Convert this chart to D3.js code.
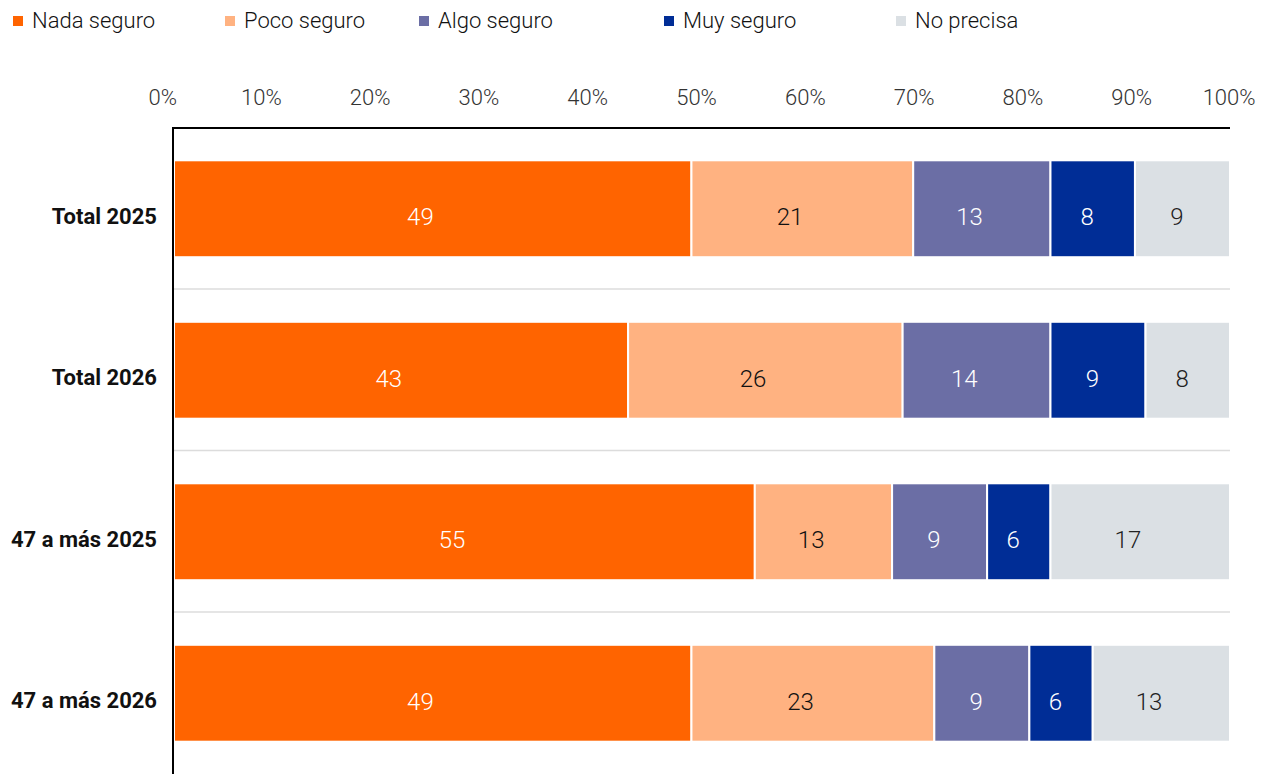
<!DOCTYPE html>
<html>
<head>
<meta charset="utf-8">
<script src="https://cdn.jsdelivr.net/npm/d3@7"></script>
<style>
  body { margin: 0; background: #fff; }
  text { font-family: Roboto, "Open Sans", sans-serif; }
</style>
</head>
<body>
<div id="chart"></div>
<script>
// Data
const categories = ['Total 2025', 'Total 2026', '47 a más 2025', '47 a más 2026']
const seriesNames = ['Nada seguro', 'Poco seguro', 'Algo seguro', 'Muy seguro', 'No precisa']
const nadaSeguro = [49, 43, 55, 49]
const pocoSeguro = [21, 26, 13, 23]
const algoSeguro = [13, 14, 9, 9]
const muySeguro = [8, 9, 6, 6]
const noPrecisa = [9, 8, 17, 13]
const tickValues = [0, 10, 20, 30, 40, 50, 60, 70, 80, 90, 100]

const colors = ['#ff6400', '#ffb281', '#6b6ea5', '#002d96', '#dbe0e4']
const textColors = ['#fff', '#111', '#fff', '#fff', '#222']

const width = 1268
const height = 774
const margin = { top: 128, left: 174, right: 38, bottom: 0 }

const rows = categories.map((c, i) => {
  const row = { cat: c }
  row['Nada seguro'] = nadaSeguro[i]
  row['Poco seguro'] = pocoSeguro[i]
  row['Algo seguro'] = algoSeguro[i]
  row['Muy seguro'] = muySeguro[i]
  row['No precisa'] = noPrecisa[i]
  return row
})

const svg = d3
  .select('#chart')
  .append('svg')
  .attr('width', width)
  .attr('height', height)

const xPositionScale = d3.scaleLinear().domain([0, 100]).range([margin.left, width - margin.right])
// the tick labels in the original run on their own spacing and are kept inside the frame
const xLabelScale = d3.scaleLinear().domain([0, 100]).range([152, 1240])
const yPositionScale = d3
  .scaleBand()
  .domain(categories)
  .range([margin.top, height])
  .paddingInner(0.4)
  .paddingOuter(0.2)
const colorScale = d3.scaleOrdinal().domain(seriesNames).range(colors)

const stacked = d3.stack().keys(seriesNames)(rows)

// separator lines between rows
const step = yPositionScale.step()
svg
  .selectAll('.sep')
  .data(categories.slice(1))
  .enter()
  .append('line')
  .attr('class', 'sep')
  .attr('x1', margin.left)
  .attr('x2', width - margin.right)
  .attr('y1', d => yPositionScale(d) - step * 0.4 / 2 - 0.5)
  .attr('y2', d => yPositionScale(d) - step * 0.4 / 2 - 0.5)
  .attr('stroke', '#dcdcdc')
  .attr('stroke-width', 1.5)

// bars
const groups = svg
  .selectAll('.series')
  .data(stacked)
  .enter()
  .append('g')
  .attr('class', 'series')
  .attr('fill', d => colorScale(d.key))

groups
  .selectAll('rect')
  .data(d => d)
  .enter()
  .append('rect')
  .attr('x', d => xPositionScale(d[0]))
  .attr('width', d => xPositionScale(d[1]) - xPositionScale(d[0]))
  .attr('y', d => yPositionScale(d.data.cat))
  .attr('height', yPositionScale.bandwidth())
  .attr('stroke', '#fff')
  .attr('stroke-width', 2)

// value labels end at the middle of each segment, like the original
groups
  .selectAll('text')
  .data((d, i) => d.map(v => ({ v: v, i: i })))
  .enter()
  .append('text')
  .attr('x', d => (xPositionScale(d.v[0]) + xPositionScale(d.v[1])) / 2 + 1)
  .attr('y', d => yPositionScale(d.v.data.cat) + yPositionScale.bandwidth() / 2 + 8)
  .attr('dy', '0.36em')
  .attr('text-anchor', 'end')
  .attr('font-size', 24)
  .attr('font-weight', 300)
  .attr('fill', d => textColors[d.i])
  .text(d => d.v[1] - d.v[0])

// top axis
const xAxis = d3
  .axisTop(xLabelScale)
  .tickValues(tickValues)
  .tickSize(0)
  .tickPadding(0)
  .tickFormat(d => d + '%')
const xAxisG = svg
  .append('g')
  .attr('class', 'axis x-axis')
  .attr('transform', 'translate(0,105)')
  .call(xAxis)
  .call(g => g.select('.domain').remove())

xAxisG
  .selectAll('text')
  .attr('font-size', 22)
  .attr('font-weight', 300)
  .attr('font-family', 'Roboto, sans-serif')
  .attr('fill', '#333')

// keep the end labels inside [148, 1255]
xAxisG.selectAll('.tick').each(function(d) {
  const t = d3.select(this).select('text')
  const half = t.node().getComputedTextLength() / 2
  const cx = xLabelScale(d)
  const clamped = Math.max(148 + half, Math.min(1255 - half, cx))
  t.attr('x', clamped - cx)
})

svg
  .append('line')
  .attr('x1', margin.left - 2)
  .attr('x2', width - margin.right)
  .attr('y1', margin.top)
  .attr('y2', margin.top)
  .attr('stroke', '#000')
  .attr('stroke-width', 2)

// left axis
const yAxis = d3.axisLeft(yPositionScale).tickSize(0).tickPadding(16)
svg
  .append('g')
  .attr('class', 'axis y-axis')
  .attr('transform', 'translate(' + (margin.left - 1) + ',8)')
  .call(yAxis)
  .call(g => g.select('.domain').remove())
  .selectAll('text')
  .attr('font-size', 22)
  .attr('font-weight', 700)
  .attr('font-family', 'Roboto, sans-serif')
  .attr('fill', '#111')

svg
  .append('line')
  .attr('x1', margin.left - 1)
  .attr('x2', margin.left - 1)
  .attr('y1', margin.top - 1)
  .attr('y2', height)
  .attr('stroke', '#000')
  .attr('stroke-width', 2)

// legend
const legendX = [13, 225, 419, 664, 896]
const legend = svg
  .selectAll('.legend')
  .data(seriesNames)
  .enter()
  .append('g')
  .attr('class', 'legend')
  .attr('transform', (d, i) => 'translate(' + legendX[i] + ',20)')

legend
  .append('rect')
  .attr('x', 0)
  .attr('y', -4)
  .attr('width', 10)
  .attr('height', 10)
  .attr('fill', d => colorScale(d))

legend
  .append('text')
  .attr('x', 19)
  .attr('y', 0)
  .attr('dy', '0.35em')
  .attr('font-size', 22)
  .attr('font-weight', 300)
  .attr('fill', '#111')
  .text(d => d)
</script>
</body>
</html>
